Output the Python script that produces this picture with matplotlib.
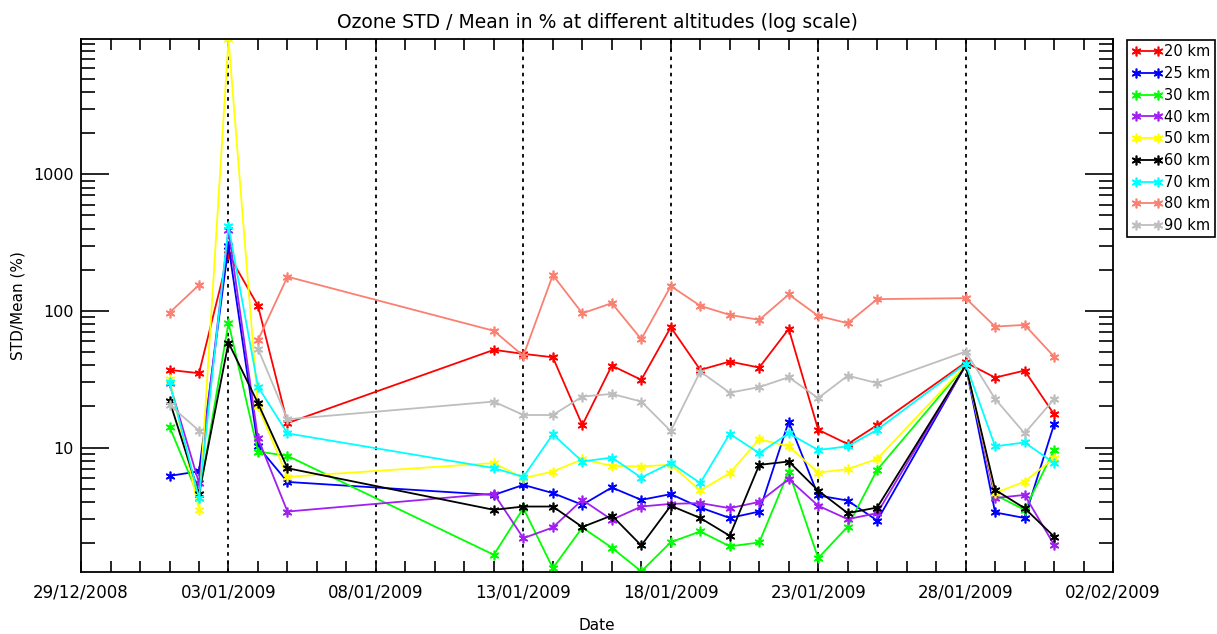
import numpy as np
import pandas as pd
import matplotlib
matplotlib.use('Agg')
import matplotlib.pyplot as plt
import matplotlib.dates as mdates
from matplotlib.ticker import LogLocator, NullFormatter, FixedLocator

nan = np.nan

dates = ['2009-01-01', '2009-01-02', '2009-01-03', '2009-01-04', '2009-01-05',
         '2009-01-12', '2009-01-13', '2009-01-14', '2009-01-15', '2009-01-16',
         '2009-01-17', '2009-01-18', '2009-01-19', '2009-01-20', '2009-01-21',
         '2009-01-22', '2009-01-23', '2009-01-24', '2009-01-25', '2009-01-28',
         '2009-01-29', '2009-01-30', '2009-01-31']

km20 = [37, 35, 260, 109, 15.1, 51.9, 48.5, 45.8, 14.6, 39.8, 31.3, 76, 37, 42.6, 38.5, 73.8, 13.5, 10.6, 14.6, 42, 32.5, 36.6, 17.5]
km25 = [6.2, 6.7, 300, 10.2, 5.6, 4.5, 5.33, 4.64, 3.81, 5.1, 4.14, 4.56, 3.64, 3.05, 3.4, 15.5, 4.46, 4.09, 2.92, 40, 3.35, 3.05, 14.8]
km30 = [14.2, 4.3, 82, 9.35, 8.7, 1.64, 3.6, 1.31, 2.6, 1.85, 1.24, 2.03, 2.43, 1.89, 2.02, 6.67, 1.55, 2.64, 6.87, 40, 4.5, 3.5, 9.6]
km40 = [29.5, 5.5, 390, 11.7, 3.4, 4.6, 2.17, 2.6, 4.14, 2.96, 3.7, 3.87, 3.92, 3.6, 4.0, 5.87, 3.75, 2.99, 3.31, 40, 4.27, 4.5, 1.94]
km50 = [31.6, 3.5, 9780, 20, 6.1, 7.7, 5.97, 6.67, 8.2, 7.35, 7.26, 7.5, 4.85, 6.5, 11.5, 10.2, 6.56, 6.95, 8.26, 40, 4.64, 5.64, 8.36]
km60 = [22, 4.6, 58.6, 21.1, 7.06, 3.5, 3.7, 3.7, 2.62, 3.18, 1.92, 3.75, 3.05, 2.26, 7.47, 7.9, 4.84, 3.31, 3.64, 40, 4.9, 3.6, 2.23]
km70 = [30, 4.27, 419, 27.9, 12.7, 7.07, 6.1, 12.5, 7.9, 8.45, 6.03, 7.7, 5.5, 12.6, 9.1, 12.7, 9.6, 10.2, 13.5, 41, 10.2, 10.9, 7.7]
km80 = [97, 155, nan, 61, 178, 71.5, 46.9, 183, 96, 114, 62.1, 152, 109, 93.5, 86, 132, 91.9, 81.3, 122, 124, 76.8, 79, 46.3]
km90 = [20.5, 13.3, nan, 53, 16.1, 21.7, 17.3, 17.3, 23.6, 24.7, 21.7, 13.2, 36, 25.2, 27.7, 32.7, 23, 33.6, 29.6, 50.4, 22.7, 12.7, 22.6]

labels = ['20 km', '25 km', '30 km', '40 km', '50 km', '60 km', '70 km', '80 km', '90 km']
colors = ['#ff0000', '#0000ff', '#00ff00', '#a020f0', '#ffff00', '#000000', '#00ffff', '#fa8072', '#bebebe']
series = [km20, km25, km30, km40, km50, km60, km70, km80, km90]

x_start, x_end = '2008-12-29', '2009-02-02'
marker_days = ['2009-01-03', '2009-01-08', '2009-01-13', '2009-01-18', '2009-01-23', '2009-01-28']

plt.rcParams['font.family'] = ['DejaVu Sans']

fig = plt.figure(figsize=(12.17, 6.34), dpi=100)
ax = fig.add_axes([0.0666, 0.0978, 0.848, 0.8407])

x = pd.to_datetime(dates)
for vals, lab, col in zip(series, labels, colors):
    ax.plot(x, vals, color=col, lw=1.3, marker=(6, 2, 0), ms=7, mew=1.2, label=lab)

# dotted guide lines every 5 days
for d in marker_days:
    ax.axvline(pd.Timestamp(d), color='black', lw=1.3, ls=(0, (2, 2.5)), zorder=0)

ax.set_yscale('log')
allv = np.concatenate([np.array(s, dtype=float) for s in series])
ax.set_ylim(np.nanmin(allv) * 0.99, np.nanmax(allv))
ax.set_xlim(pd.Timestamp(x_start), pd.Timestamp(x_end))

ax.xaxis.set_major_locator(FixedLocator(mdates.date2num(pd.date_range(x_start, x_end, freq='5D'))))
ax.xaxis.set_minor_locator(FixedLocator(mdates.date2num(pd.date_range(x_start, x_end, freq='1D'))))
ax.xaxis.set_major_formatter(mdates.DateFormatter('%d/%m/%Y'))
ax.yaxis.set_major_locator(LogLocator(base=10))
ax.yaxis.set_minor_locator(LogLocator(base=10, subs=np.arange(2, 10)))
ax.yaxis.set_minor_formatter(NullFormatter())
ax.yaxis.set_major_formatter(matplotlib.ticker.FuncFormatter(lambda v, p: '%d' % v))

ax.tick_params(axis='x', which='both', direction='in', length=8, width=1.2, top=True, labelsize=12, pad=8)
ax.tick_params(axis='y', which='major', direction='in', length=20, width=1.2, right=True, labelsize=11.5, pad=5)
ax.tick_params(axis='y', which='minor', direction='in', length=10, width=1.2, right=True)
for sp in ax.spines.values():
    sp.set_linewidth(1.3)

ax.set_title('Ozone STD / Mean in % at different altitudes (log scale)', fontsize=13.5, pad=8)
ax.set_xlabel('Date', fontsize=11, labelpad=12)
ax.set_ylabel('STD/Mean (%)', fontsize=11, labelpad=6)

leg = ax.legend(loc='upper left', bbox_to_anchor=(1127 / 1217, 1 - 40 / 634), bbox_transform=fig.transFigure,
                numpoints=2, handlelength=2.1, handletextpad=0.15, labelspacing=0.46, borderpad=0.3,
                borderaxespad=0, fancybox=False, framealpha=1, fontsize=10.5, edgecolor='black')
leg.get_frame().set_linewidth(1.2)

fig.savefig('out.png', dpi=100)
